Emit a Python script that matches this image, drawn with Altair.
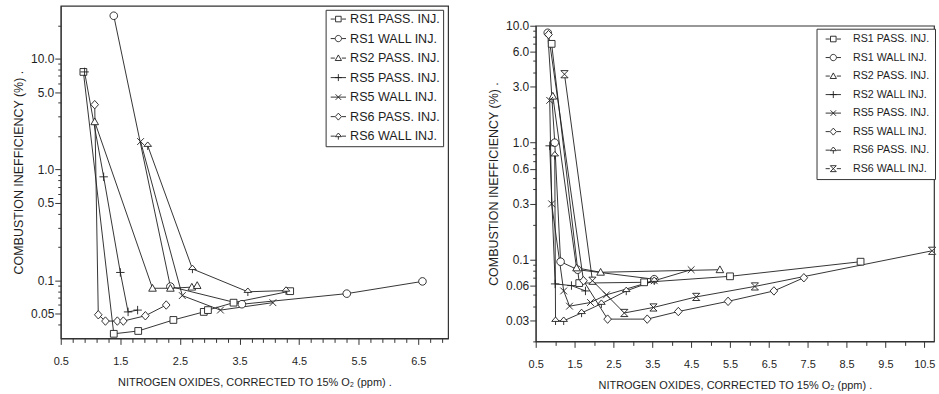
import json
import altair as alt
import pandas as pd

FONT = "Liberation Sans"
INK = "#1e1e1e"
X_TITLE = "NITROGEN OXIDES, CORRECTED TO 15% O\u2082 (ppm) ."
Y_TITLE = "COMBUSTION INEFFICIENCY (%) ."

# ---------------- left panel data ----------------
L_NAMES = ["RS1 PASS. INJ.", "RS1 WALL INJ.", "RS2 PASS. INJ.", "RS5 PASS. INJ.",
           "RS5 WALL INJ.", "RS6 PASS. INJ.", "RS6 WALL INJ."]
L_KINDS = ["square", "circle", "triangle", "plus", "cross", "diamond", "arrow"]
L_X = [
    [0.88, 1.39, 1.80, 2.39, 2.90, 2.97, 3.40, 4.35],
    [1.39, 2.34, 3.54, 5.30, 6.57],
    [1.07, 2.04, 2.34, 2.70, 2.79],
    [0.90, 1.22, 1.50, 1.63, 1.79],
    [1.84, 2.54, 3.18, 4.06],
    [1.07, 1.13, 1.25, 1.45, 1.55, 1.92, 2.27],
    [1.96, 2.71, 3.64, 4.28],
]
L_Y = [
    [7.6, 0.033, 0.035, 0.044, 0.052, 0.054, 0.063, 0.080],
    [24.4, 0.088, 0.061, 0.076, 0.098],
    [2.7, 0.085, 0.085, 0.087, 0.090],
    [7.6, 0.86, 0.118, 0.052, 0.054],
    [1.79, 0.073, 0.054, 0.063],
    [3.85, 0.049, 0.043, 0.043, 0.043, 0.048, 0.060],
    [1.64, 0.127, 0.079, 0.081],
]
L_XDOM = [0.5, 7.0]
L_YDOM = [0.03, 30]
L_Y_MAJOR = [0.05, 0.1, 0.5, 1.0, 5.0, 10.0]
L_Y_MINOR = [0.04, 0.06, 0.07, 0.08, 0.09, 0.2, 0.3, 0.4, 0.6, 0.7, 0.8, 0.9,
             2, 3, 4, 6, 7, 8, 9, 20]
L_X_TICKS = [round(0.5 + 0.2 * i, 2) for i in range(33)]

# ---------------- right panel data ----------------
R_NAMES = ["RS1 PASS. INJ.", "RS1 WALL INJ.", "RS2 PASS. INJ.", "RS2 WALL INJ.",
           "RS5 PASS. INJ.", "RS5 WALL INJ.", "RS6 PASS. INJ.", "RS6 WALL INJ."]
R_KINDS = ["square", "circle", "triangle", "plus", "cross", "diamond", "arrow", "hourglass"]
R_X = [
    [0.91, 1.62, 3.29, 5.50, 8.86],
    [0.81, 0.99, 1.14, 1.58, 3.55],
    [0.94, 1.55, 2.17, 5.24],
    [0.86, 1.00, 1.42, 1.78],
    [0.86, 0.91, 1.22, 1.37, 1.91, 2.32, 3.55, 4.50],
    [0.83, 1.73, 2.35, 3.37, 4.17, 5.45, 6.63, 7.40],
    [0.99, 1.01, 1.22, 1.68, 2.19, 2.83, 3.55],
    [1.24, 1.96, 2.78, 3.53, 4.63, 6.14, 10.70],
]
R_Y = [
    [7.0, 0.063, 0.064, 0.072, 0.096],
    [8.7, 1.0, 0.096, 0.082, 0.068],
    [2.5, 0.085, 0.078, 0.082],
    [0.94, 0.062, 0.060, 0.054],
    [2.3, 0.30, 0.054, 0.040, 0.043, 0.050, 0.066, 0.082],
    [8.4, 0.066, 0.031, 0.031, 0.036, 0.044, 0.054, 0.070],
    [0.78, 0.030, 0.030, 0.035, 0.042, 0.054, 0.066],
    [3.85, 0.066, 0.035, 0.039, 0.048, 0.059, 0.119],
]
R_XDOM = [0.5, 10.75]
R_YDOM = [0.02, 10]
R_Y_MAJOR = [0.03, 0.06, 0.1, 0.3, 0.6, 1.0, 3.0, 6.0, 10.0]
R_Y_MINOR = [0.02, 0.04, 0.05, 0.07, 0.08, 0.09, 0.2, 0.4, 0.5, 0.7, 0.8, 0.9,
             2, 4, 5, 7, 8, 9]
R_X_TICKS = [round(0.5 + 0.5 * i, 2) for i in range(21)]

# ---------------- marker paths ----------------
MARK = {
    "square": "M-0.8,-0.8L0.8,-0.8L0.8,0.8L-0.8,0.8Z",
    "circle": "M-0.9,0A0.9,0.9,0,1,1,0.9,0A0.9,0.9,0,1,1,-0.9,0Z",
    "triangle": "M0,-0.9L0.9,0.7L-0.9,0.7Z",
    "plus": "M-1,0L1,0M0,-1L0,1",
    "cross": "M-0.8,-0.8L0.8,0.8M-0.8,0.8L0.8,-0.8",
    "diamond": "M0,-1L0.9,0L0,1L-0.9,0Z",
    "arrow": "M0,-0.9L0.9,0.15L-0.9,0.15ZM0,0.15L0,1",
    "hourglass": "M-0.85,-0.85L0.85,-0.85L-0.85,0.85L0.85,0.85Z",
}
SIDE = "M-2.2,0L-1,0M1,0L2.2,0"
THRU = "M-2.2,0L2.2,0"
LEG = {k: (THRU if k in ("plus", "cross") else SIDE) + v for k, v in MARK.items()}


def frame(names, xs, ys):
    rows = []
    for n, xx, yy in zip(names, xs, ys):
        for i, (a, b) in enumerate(zip(xx, yy)):
            rows.append({"series": n, "x": a, "y": b, "order": i})
    return pd.DataFrame(rows)


def y_axis(major, minor):
    vals = sorted(major + minor)
    test = f"indexof({json.dumps(major)}, datum.value) >= 0"
    return alt.Axis(
        values=vals,
        labelExpr=f"{test} ? (datum.value >= 0.1 ? format(datum.value, '.1f') : format(datum.value, '.2f')) : ''",
        tickSize={"condition": {"test": test, "value": 6}, "value": 3},
        labelOverlap=False, labelFontSize=12, labelPadding=1,
        titleFontSize=12.5, titlePadding=5, grid=False,
    )


def x_axis(ticks):
    test = "abs((datum.value + 0.5) % 1) < 0.001"
    return alt.Axis(
        values=ticks,
        labelExpr=f"{test} ? format(datum.value, '.1f') : ''",
        tickSize={"condition": {"test": test, "value": 6}, "value": 4},
        labelOverlap=False, labelFlush=False, labelFontSize=11, labelPadding=11,
        titleFontSize=11, titlePadding=10, grid=False,
    )


def panel(names, kinds, xs, ys, xdom, ydom, xticks, ymaj, ymin, w, h, leg):
    df = frame(names, xs, ys)
    base = alt.Chart(df)
    X = alt.X("x:Q", scale=alt.Scale(domain=xdom, nice=False, zero=False),
              axis=x_axis(xticks), title=X_TITLE)
    Y = alt.Y("y:Q", scale=alt.Scale(type="log", domain=ydom, nice=False),
              axis=y_axis(ymaj, ymin), title=Y_TITLE)
    lines = base.mark_line(color=INK, strokeWidth=0.9).encode(
        x=X, y=Y, detail="series:N", order="order:Q")
    pts = base.mark_point(filled=True, fill="white", stroke=INK, strokeWidth=0.9,
                          size=72, opacity=1).encode(
        x=X, y=Y,
        shape=alt.Shape("series:N", scale=alt.Scale(domain=names, range=[MARK[k] for k in kinds]),
                        legend=None))
    legend_layer = base.transform_filter("datum.x < -999").mark_point(
        filled=False, color=INK, strokeWidth=0.9, size=49, opacity=1).encode(
        x=X, y=Y,
        shape=alt.Shape("series:N", scale=alt.Scale(domain=names, range=[LEG[k] for k in kinds]),
                        legend=alt.Legend(title=None, orient="none", direction="vertical",
                                          legendX=leg["x"], legendY=leg["y"],
                                          padding=leg["pad"], rowPadding=leg["row"],
                                          labelFontSize=leg["fs"], labelFont=FONT, labelColor=INK,
                                          labelLimit=0, labelOffset=leg["lo"],
                                          symbolOffset=leg["so"], symbolSize=49,
                                          symbolStrokeWidth=0.9, symbolFillColor="white",
                                          symbolStrokeColor=INK, symbolOpacity=1,
                                          strokeColor="#333", fillColor="white")))
    return alt.layer(lines, pts, legend_layer).resolve_scale(shape="independent").properties(
        width=w, height=h)


left = panel(L_NAMES, L_KINDS, L_X, L_Y, L_XDOM, L_YDOM, L_X_TICKS, L_Y_MAJOR, L_Y_MINOR,
             389, 334, {"x": 266, "y": 4, "pad": 3, "row": 6.6, "fs": 12.6, "lo": 5.5, "so": 3.5})
right = panel(R_NAMES, R_KINDS, R_X, R_Y, R_XDOM, R_YDOM, R_X_TICKS, R_Y_MAJOR, R_Y_MINOR,
              400, 317, {"x": 282, "y": 3, "pad": 5, "row": 6.6, "fs": 10.7, "lo": 14.5, "so": 6.5})

spacer = alt.Chart(pd.DataFrame({"s": [0]})).mark_rule(opacity=0, strokeWidth=0.1).encode(
    x=alt.value(0), x2=alt.value(1), y=alt.value(0)
).properties(width=400, height=1, view=alt.ViewBackground(stroke="transparent"))

right_col = alt.vconcat(spacer, right, spacing=11)

chart = alt.hconcat(left, right_col, spacing=38).resolve_scale(
    x="independent", y="independent", shape="independent"
).properties(
    padding={"left": 12, "top": 4, "right": 0, "bottom": 0}
).configure_view(
    stroke="#333", strokeWidth=1.2
).configure_axis(
    labelFont=FONT, titleFont=FONT, labelColor=INK, titleColor=INK,
    domainColor="#333", tickColor="#333", titleFontWeight="normal"
)

chart.save("out.html", embed_options={"renderer": "svg", "actions": False})
